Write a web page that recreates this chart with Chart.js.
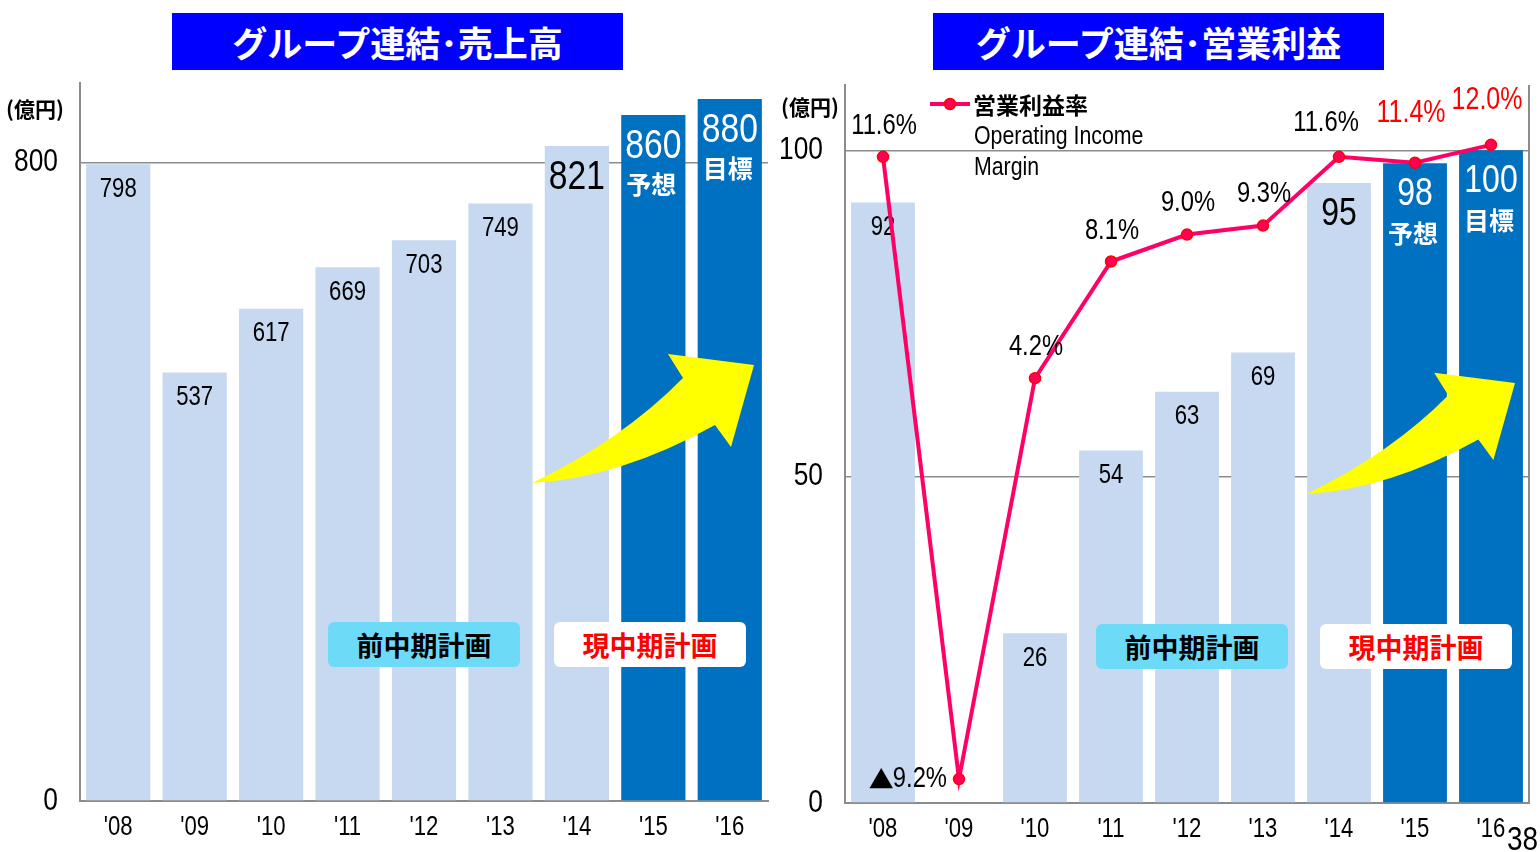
<!DOCTYPE html>
<html>
<head>
<meta charset="utf-8">
<script src="https://cdn.jsdelivr.net/npm/chart.js@4.4.1/dist/chart.umd.min.js"></script>
<style>
  body { margin: 0; width: 1540px; height: 852px; overflow: hidden; background: #fff; position: relative;
         font-family: 'Noto Sans CJK JP', sans-serif; }
  .wrap { position: absolute; top: 0; width: 770px; height: 852px; }
  .title { position: absolute; top: 13px; width: 451px; height: 57px; background: #0000ff; color: #fff;
           font-weight: bold; font-size: 35px; line-height: 57px; text-align: center; }
  .unit { position: absolute; font-weight: bold; font-size: 21px; line-height: 24px; }
  .plan { position: absolute; width: 192px; height: 45px; border-radius: 6px; font-weight: bold;
          font-size: 27px; line-height: 45px; text-align: center; }
  .page { position: absolute; left: 1507px; top: 819px; font-size: 34px; transform: scaleX(0.82);
          transform-origin: left top; font-family: 'Liberation Sans', Arial, sans-serif; }
</style>
</head>
<body>
<div class="wrap" style="left:0"><canvas id="salesChart"></canvas></div>
<div class="wrap" style="left:770px"><canvas id="incomeChart"></canvas></div>

<div class="title" style="left:172px">グループ連結･売上高</div>
<div class="title" style="left:933px">グループ連結･営業利益</div>
<div class="unit" style="left:6px;top:96px">(億円)</div>
<div class="unit" style="left:781px;top:94px">(億円)</div>
<div class="plan" style="left:328px;top:622px;background:#6ddaf8;color:#000">前中期計画</div>
<div class="plan" style="left:554px;top:622px;background:#fff;color:#ff0000">現中期計画</div>
<div class="plan" style="left:1096px;top:624px;background:#6ddaf8;color:#000">前中期計画</div>
<div class="plan" style="left:1320px;top:624px;background:#fff;color:#ff0000">現中期計画</div>
<div class="page">38</div>

<script>
document.addEventListener('DOMContentLoaded', function () {
  // data
  const years = ["'08", "'09", "'10", "'11", "'12", "'13", "'14", "'15", "'16"];
  const salesValues = [798, 537, 617, 669, 703, 749, 821, 860, 880];
  const incomeValues = [92, null, 26, 54, 63, 69, 95, 98, 100];
  const marginValues = [11.6, -9.2, 4.2, 8.1, 9.0, 9.3, 11.6, 11.4, 12.0];
  const barNotes = ['', '', '', '', '', '', '', '予想', '目標'];
  const salesTicks = [0, 800];
  const incomeTicks = [0, 50, 100];

  const LIGHT = '#c6d9f0';
  const DARK = '#0070c0';
  const GRID = '#8c8c8c';
  const NUM = "'Liberation Sans', Arial, sans-serif";
  const JP = "'Noto Sans CJK JP', sans-serif";
  const planStart = 7;   // '15 and '16 are plan years
  const bigFrom = 6;     // '14 onwards gets larger labels

  // label offsets for the margin line [dx, dy]
  const marginLabelOffsets = [[1, -31], [-12, 0], [1, -31], [1, -31], [1, -32], [1, -32], [-13, -34], [-4, -50], [-4, -45]];

  const barColors = years.map((_, i) => i >= planStart ? DARK : LIGHT);

  // narrow gothic look: Arial-metric font squeezed horizontally, returns drawn width
  function narrowText(ctx, txt, x, y, size, color, align, sx) {
    sx = sx || 0.82;
    ctx.save();
    ctx.font = size + 'px ' + NUM;
    ctx.fillStyle = color;
    ctx.textAlign = align;
    ctx.textBaseline = 'middle';
    const w = ctx.measureText(txt).width * sx;
    ctx.translate(x, y);
    ctx.scale(sx, 1);
    ctx.fillText(txt, 0, 0);
    ctx.restore();
    return w;
  }

  // yellow arrow, points relative to the tip
  function drawArrow(ctx, tipX, tipY, s) {
    const p = (dx, dy) => [tipX + dx * s, tipY + dy * s];
    ctx.save();
    ctx.fillStyle = '#ffff00';
    ctx.beginPath();
    ctx.moveTo(...p(-222, 118));
    ctx.quadraticCurveTo(...p(-132, 75), ...p(-71, 13));
    ctx.lineTo(...p(-86, -11));
    ctx.lineTo(...p(0, 0));
    ctx.lineTo(...p(-23, 82));
    ctx.lineTo(...p(-39, 60));
    ctx.quadraticCurveTo(...p(-134, 113), ...p(-222, 118));
    ctx.closePath();
    ctx.fill();
    ctx.restore();
  }

  function barLabelPlugin(values, sizes) {
    return {
      id: 'barLabels',
      afterDatasetDraw(chart, args) {
        if (args.meta.type !== 'bar') return;
        const ctx = chart.ctx;
        args.meta.data.forEach((bar, i) => {
          if (values[i] == null) return;
          const big = i >= bigFrom;
          const color = i >= planStart ? '#fff' : '#000';
          narrowText(ctx, String(values[i]), bar.x, bar.y + (big ? sizes.bigOff : 25),
                     big ? sizes.big : sizes.small, color, 'center');
          if (barNotes[i]) {
            ctx.save();
            ctx.fillStyle = color;
            ctx.textAlign = 'center';
            ctx.textBaseline = 'middle';
            ctx.font = 'bold 25px ' + JP;
            ctx.fillText(barNotes[i], bar.x - 2, bar.y + 70);
            ctx.restore();
          }
        });
      }
    };
  }

  // tick labels drawn through the scales, in the squeezed font
  const axisLabelPlugin = {
    id: 'axisLabels',
    afterDraw(chart) {
      const ctx = chart.ctx;
      const xs = chart.scales.x, ys = chart.scales.y;
      xs.ticks.forEach((t, i) => {
        narrowText(ctx, xs.getLabelForValue(t.value), xs.getPixelForTick(i), chart.chartArea.bottom + 27, 27, '#000', 'center');
      });
      ys.ticks.forEach(t => {
        narrowText(ctx, String(t.value), chart.chartArea.left - 22, ys.getPixelForValue(t.value), 31, '#000', 'right', 0.85);
      });
    }
  };

  function baseScales(ticks, max, yWidth, xHeight) {
    return {
      x: {
        grid: { display: false, drawTicks: false },
        border: { color: GRID, width: 2 },
        ticks: { display: false },
        afterFit(s) { s.height = xHeight; }
      },
      y: {
        min: 0,
        max: max,
        afterBuildTicks(s) { s.ticks = ticks.map(v => ({ value: v })); },
        grid: { color: GRID, lineWidth: 1.5, drawTicks: false },
        border: { color: GRID, width: 2 },
        ticks: { display: false },
        afterFit(s) { s.width = yWidth; }
      }
    };
  }

  // ---- left: sales ----
  new Chart(document.getElementById('salesChart'), {
    type: 'bar',
    data: {
      labels: years,
      datasets: [{
        data: salesValues,
        backgroundColor: barColors,
        categoryPercentage: 1,
        barPercentage: 0.84
      }]
    },
    options: {
      responsive: true,
      maintainAspectRatio: false,
      animation: false,
      layout: { padding: { top: 83, right: 2, left: 0, bottom: 0 } },
      plugins: { legend: { display: false }, tooltip: { enabled: false } },
      scales: baseScales(salesTicks, 900, 80, 51)
    },
    plugins: [
      barLabelPlugin(salesValues, { small: 27, big: 41, bigOff: 32 }),
      axisLabelPlugin,
      {
        id: 'salesArrow',
        afterDraw(chart) { drawArrow(chart.ctx, 754, 365, 1); }
      }
    ]
  });

  // ---- right: operating income + margin ----
  const incomeScales = baseScales(incomeTicks, 110, 75, 49);
  incomeScales.y2 = { display: false, min: -10, max: 14 };

  new Chart(document.getElementById('incomeChart'), {
    type: 'bar',
    data: {
      labels: years,
      datasets: [
        {
          type: 'line',
          order: 1,
          data: marginValues,
          yAxisID: 'y2',
          borderColor: '#ff0066',
          borderWidth: 4,
          pointRadius: 5.5,
          pointBackgroundColor: '#ff0055',
          pointBorderColor: '#ff0000',
          pointBorderWidth: 1.5,
          tension: 0
        },
        {
          order: 2,
          data: incomeValues,
          backgroundColor: barColors,
          categoryPercentage: 1,
          barPercentage: 0.84
        }
      ]
    },
    options: {
      responsive: true,
      maintainAspectRatio: false,
      animation: false,
      layout: { padding: { top: 85, right: 11, left: 0, bottom: 0 } },
      plugins: { legend: { display: false }, tooltip: { enabled: false } },
      scales: incomeScales
    },
    plugins: [
      barLabelPlugin(incomeValues, { small: 27, big: 39, bigOff: 31 }),
      axisLabelPlugin,
      {
        id: 'marginExtras',
        afterDatasetsDraw(chart) {
          const ctx = chart.ctx;
          const area = chart.chartArea;
          ctx.save();
          // right frame line
          ctx.strokeStyle = GRID;
          ctx.lineWidth = 2;
          ctx.beginPath();
          ctx.moveTo(area.right, area.top);
          ctx.lineTo(area.right, area.bottom);
          ctx.stroke();
          ctx.restore();

          // margin labels (negative shown with ▲)
          const pts = chart.getDatasetMeta(0).data;
          pts.forEach((pt, i) => {
            const v = marginValues[i];
            const [dx, dy] = marginLabelOffsets[i];
            const plan = i >= planStart;
            const txt = Math.abs(v).toFixed(1) + '%';
            const w = narrowText(ctx, txt, pt.x + dx, pt.y + dy, plan ? 32 : 29,
                       plan ? '#ff0000' : '#000', v < 0 ? 'right' : 'center', plan ? 0.78 : 0.82);
            if (v < 0) {
              ctx.save();
              ctx.fillStyle = '#000';
              ctx.textAlign = 'right';
              ctx.textBaseline = 'middle';
              ctx.font = '25px ' + JP;
              ctx.fillText('▲', pt.x + dx - w + 1, pt.y + dy);
              ctx.restore();
            }
          });

          // legend
          ctx.save();
          ctx.strokeStyle = '#ff0066';
          ctx.lineWidth = 4;
          ctx.beginPath();
          ctx.moveTo(160, 104);
          ctx.lineTo(200, 104);
          ctx.stroke();
          ctx.fillStyle = '#ff0055';
          ctx.strokeStyle = '#ff0000';
          ctx.lineWidth = 1.5;
          ctx.beginPath();
          ctx.arc(180, 104, 5.5, 0, Math.PI * 2);
          ctx.fill();
          ctx.stroke();
          ctx.fillStyle = '#000';
          ctx.textAlign = 'left';
          ctx.textBaseline = 'middle';
          ctx.font = 'bold 23px ' + JP;
          ctx.fillText('営業利益率', 203, 105);
          ctx.restore();
          narrowText(ctx, 'Operating Income', 204, 137, 26, '#000', 'left');
          narrowText(ctx, 'Margin', 204, 168, 26, '#000', 'left');
        },
        afterDraw(chart) { drawArrow(chart.ctx, 745, 383, 0.94); }
      }
    ]
  });
});
</script>
</body>
</html>
